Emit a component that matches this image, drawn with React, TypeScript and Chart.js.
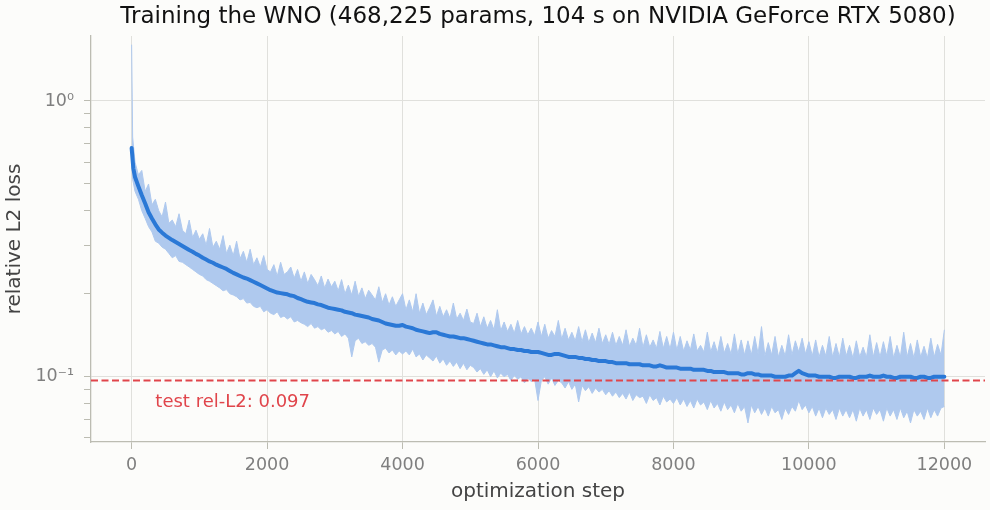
import { useEffect, useRef } from 'react';
import { Chart, registerables } from 'chart.js';

Chart.register(...registerables);

const TITLE = 'Training the WNO (468,225 params, 104 s on NVIDIA GeForce RTX 5080)';
const X_LABEL = 'optimization step';
const Y_LABEL = 'relative L2 loss';
const X_TICKS = [0, 2000, 4000, 6000, 8000, 10000, 12000];
const Y_TICKS = [0.06, 0.07, 0.08, 0.09, 0.1, 0.2, 0.3, 0.4, 0.5, 0.6, 0.7, 0.8, 0.9, 1];
const Y_TICK_LABELS: Record<string, string> = { '1': '10\u2070', '0.1': '10\u207B\u00B9' };
const TEST_LOSS = 0.097;
const TEST_LABEL = 'test rel-L2: 0.097';

// optimisation steps at which the raw-loss band and smoothed loss are sampled
const STEPS = [
  0, 15,
  50, 100, 150, 200, 250, 300, 350, 400, 450, 500, 550, 600, 650, 700, 750, 800, 850, 900, 950, 1000,
  1050, 1100, 1150, 1200, 1250, 1300, 1350, 1400, 1450, 1500, 1550, 1600, 1650, 1700, 1750, 1800, 1850, 1900, 1950, 2000,
  2050, 2100, 2150, 2200, 2250, 2300, 2350, 2400, 2450, 2500, 2550, 2600, 2650, 2700, 2750, 2800, 2850, 2900, 2950, 3000,
  3050, 3100, 3150, 3200, 3250, 3300, 3350, 3400, 3450, 3500, 3550, 3600, 3650, 3700, 3750, 3800, 3850, 3900, 3950, 4000,
  4050, 4100, 4150, 4200, 4250, 4300, 4350, 4400, 4450, 4500, 4550, 4600, 4650, 4700, 4750, 4800, 4850, 4900, 4950, 5000,
  5050, 5100, 5150, 5200, 5250, 5300, 5350, 5400, 5450, 5500, 5550, 5600, 5650, 5700, 5750, 5800, 5850, 5900, 5950, 6000,
  6050, 6100, 6150, 6200, 6250, 6300, 6350, 6400, 6450, 6500, 6550, 6600, 6650, 6700, 6750, 6800, 6850, 6900, 6950, 7000,
  7050, 7100, 7150, 7200, 7250, 7300, 7350, 7400, 7450, 7500, 7550, 7600, 7650, 7700, 7750, 7800, 7850, 7900, 7950, 8000,
  8050, 8100, 8150, 8200, 8250, 8300, 8350, 8400, 8450, 8500, 8550, 8600, 8650, 8700, 8750, 8800, 8850, 8900, 8950, 9000,
  9050, 9100, 9150, 9200, 9250, 9300, 9350, 9400, 9450, 9500, 9550, 9600, 9650, 9700, 9750, 9800, 9850, 9900, 9950, 10000,
  10050, 10100, 10150, 10200, 10250, 10300, 10350, 10400, 10450, 10500, 10550, 10600, 10650, 10700, 10750, 10800, 10850, 10900, 10950, 11000,
  11050, 11100, 11150, 11200, 11250, 11300, 11350, 11400, 11450, 11500, 11550, 11600, 11650, 11700, 11750, 11800, 11850, 11900, 11950, 12000,
];

// upper / lower extent of the noisy per-step loss
const RAW_UPPER = [
  1.6, 0.74,
  0.6, 0.54, 0.56, 0.47, 0.5, 0.42, 0.44, 0.4, 0.38, 0.43, 0.36, 0.37, 0.35, 0.39, 0.34, 0.33, 0.37, 0.32, 0.34, 0.315,
  0.33, 0.3, 0.345, 0.295, 0.31, 0.29, 0.325, 0.28, 0.3, 0.275, 0.31, 0.268, 0.285, 0.26, 0.29, 0.255, 0.27, 0.25, 0.275, 0.245,
  0.24, 0.255, 0.232, 0.26, 0.235, 0.24, 0.25, 0.228, 0.245, 0.222, 0.24, 0.218, 0.235, 0.225, 0.214, 0.232, 0.21, 0.226, 0.212, 0.222,
  0.205, 0.225, 0.2, 0.215, 0.198, 0.222, 0.196, 0.21, 0.192, 0.206, 0.198, 0.19, 0.212, 0.186, 0.2, 0.182, 0.195, 0.18, 0.19, 0.2,
  0.175, 0.19, 0.172, 0.2, 0.17, 0.185, 0.168, 0.178, 0.19, 0.166, 0.18, 0.165, 0.175, 0.163, 0.185, 0.162, 0.17, 0.16, 0.176, 0.158,
  0.156, 0.17, 0.152, 0.165, 0.15, 0.16, 0.148, 0.175, 0.147, 0.158, 0.146, 0.155, 0.144, 0.16, 0.143, 0.152, 0.142, 0.15, 0.141, 0.158,
  0.14, 0.155, 0.138, 0.147, 0.14, 0.16, 0.137, 0.15, 0.136, 0.145, 0.135, 0.152, 0.134, 0.148, 0.133, 0.144, 0.133, 0.15, 0.132, 0.142,
  0.131, 0.145, 0.13, 0.14, 0.13, 0.148, 0.129, 0.138, 0.13, 0.15, 0.128, 0.142, 0.128, 0.136, 0.127, 0.146, 0.127, 0.14, 0.126, 0.145,
  0.125, 0.14, 0.124, 0.135, 0.125, 0.143, 0.124, 0.13, 0.123, 0.145, 0.123, 0.134, 0.122, 0.14, 0.122, 0.132, 0.121, 0.143, 0.121, 0.136,
  0.12, 0.135, 0.12, 0.14, 0.121, 0.152, 0.119, 0.133, 0.12, 0.14, 0.118, 0.13, 0.119, 0.142, 0.12, 0.135, 0.123, 0.138, 0.121, 0.134,
  0.119, 0.136, 0.118, 0.13, 0.119, 0.14, 0.118, 0.132, 0.118, 0.138, 0.119, 0.13, 0.117, 0.135, 0.118, 0.128, 0.118, 0.142, 0.118, 0.133,
  0.118, 0.134, 0.119, 0.14, 0.117, 0.13, 0.118, 0.145, 0.118, 0.132, 0.117, 0.136, 0.118, 0.129, 0.117, 0.138, 0.118, 0.131, 0.12, 0.148,
];
const RAW_LOWER = [
  0.62, 0.52,
  0.47, 0.44, 0.4, 0.375, 0.35, 0.335, 0.31, 0.305, 0.295, 0.29, 0.28, 0.27, 0.275, 0.262, 0.26, 0.255, 0.25, 0.245, 0.24, 0.235,
  0.232, 0.225, 0.222, 0.218, 0.214, 0.21, 0.205, 0.207, 0.2, 0.198, 0.195, 0.19, 0.192, 0.185, 0.186, 0.18, 0.178, 0.18, 0.172, 0.175,
  0.17, 0.168, 0.172, 0.164, 0.166, 0.162, 0.165, 0.158, 0.16, 0.157, 0.155, 0.152, 0.156, 0.15, 0.152, 0.148, 0.15, 0.145, 0.147, 0.143,
  0.146, 0.14, 0.143, 0.138, 0.118, 0.135, 0.138, 0.132, 0.134, 0.13, 0.132, 0.128, 0.113, 0.125, 0.127, 0.122, 0.125, 0.12, 0.124, 0.121,
  0.124, 0.12, 0.126, 0.118, 0.121, 0.115, 0.12, 0.117, 0.114, 0.119, 0.112, 0.116, 0.11, 0.114, 0.109, 0.113, 0.107, 0.112, 0.106, 0.11,
  0.108, 0.104, 0.107, 0.102, 0.106, 0.1, 0.105, 0.099, 0.103, 0.1, 0.102, 0.097, 0.101, 0.098, 0.1, 0.095, 0.099, 0.096, 0.098, 0.082,
  0.097, 0.1, 0.094, 0.099, 0.093, 0.097, 0.095, 0.091, 0.096, 0.09, 0.094, 0.081, 0.093, 0.089, 0.092, 0.087, 0.091, 0.088, 0.09, 0.086,
  0.089, 0.085, 0.088, 0.084, 0.087, 0.083, 0.088, 0.082, 0.086, 0.084, 0.085, 0.08, 0.086, 0.082, 0.084, 0.079, 0.085, 0.081, 0.083, 0.08,
  0.084, 0.079, 0.083, 0.078, 0.082, 0.077, 0.083, 0.079, 0.081, 0.076, 0.082, 0.077, 0.08, 0.075, 0.081, 0.076, 0.079, 0.074, 0.08, 0.075,
  0.078, 0.068, 0.079, 0.074, 0.078, 0.073, 0.077, 0.072, 0.078, 0.074, 0.076, 0.07, 0.077, 0.073, 0.078, 0.075, 0.082, 0.076, 0.079, 0.074,
  0.078, 0.072, 0.077, 0.071, 0.077, 0.073, 0.076, 0.07, 0.077, 0.072, 0.076, 0.071, 0.076, 0.069, 0.077, 0.072, 0.076, 0.07, 0.077, 0.073,
  0.076, 0.069, 0.077, 0.072, 0.076, 0.07, 0.077, 0.071, 0.075, 0.068, 0.076, 0.072, 0.075, 0.07, 0.077, 0.071, 0.076, 0.072, 0.077, 0.078,
];

// smoothed loss (same steps, second sample at step 25)
const SMOOTH_STEPS = STEPS.map((s) => (s === 15 ? 25 : s));
const SMOOTH_LOSS = [
  0.675, 0.57,
  0.53, 0.49, 0.455, 0.425, 0.395, 0.375, 0.357, 0.342, 0.333, 0.325, 0.319, 0.313, 0.308, 0.303, 0.298, 0.293, 0.288, 0.284, 0.279, 0.275,
  0.27, 0.266, 0.262, 0.259, 0.255, 0.252, 0.249, 0.246, 0.242, 0.238, 0.235, 0.232, 0.229, 0.227, 0.224, 0.221, 0.218, 0.215, 0.212, 0.209,
  0.206, 0.204, 0.202, 0.201, 0.2, 0.199, 0.197, 0.196, 0.193, 0.191, 0.189, 0.187, 0.186, 0.185, 0.183, 0.182, 0.18, 0.178, 0.177, 0.176,
  0.175, 0.174, 0.172, 0.171, 0.17, 0.168, 0.167, 0.166, 0.165, 0.164, 0.162, 0.161, 0.16, 0.158, 0.156, 0.155, 0.154, 0.153, 0.153, 0.154,
  0.152, 0.151, 0.15, 0.148, 0.147, 0.146, 0.145, 0.144, 0.145, 0.145, 0.143, 0.142, 0.141, 0.14, 0.14, 0.139, 0.138, 0.138, 0.137, 0.136,
  0.135, 0.134, 0.133, 0.132, 0.131, 0.131, 0.13, 0.129, 0.128, 0.128, 0.127, 0.126, 0.126, 0.125, 0.125, 0.124, 0.124, 0.123, 0.123, 0.123,
  0.122, 0.121, 0.12, 0.12, 0.121, 0.121, 0.12, 0.119, 0.118, 0.118, 0.118, 0.117, 0.117, 0.116, 0.116, 0.115, 0.115, 0.114, 0.114, 0.114,
  0.113, 0.113, 0.112, 0.112, 0.112, 0.112, 0.111, 0.111, 0.111, 0.111, 0.11, 0.11, 0.11, 0.109, 0.109, 0.11, 0.109, 0.108, 0.108, 0.108,
  0.108, 0.107, 0.107, 0.107, 0.107, 0.106, 0.106, 0.106, 0.106, 0.105, 0.105, 0.104, 0.104, 0.104, 0.104, 0.103, 0.103, 0.103, 0.103, 0.102,
  0.102, 0.103, 0.103, 0.102, 0.102, 0.101, 0.101, 0.101, 0.101, 0.1, 0.1, 0.1, 0.1, 0.101, 0.101, 0.103, 0.105, 0.103, 0.102, 0.101,
  0.101, 0.101, 0.1, 0.1, 0.1, 0.1, 0.099, 0.099, 0.1, 0.1, 0.1, 0.1, 0.099, 0.099, 0.1, 0.1, 0.1, 0.101, 0.1, 0.1,
  0.1, 0.101, 0.1, 0.1, 0.099, 0.099, 0.1, 0.1, 0.1, 0.1, 0.099, 0.099, 0.1, 0.1, 0.099, 0.099, 0.1, 0.1, 0.1, 0.1,
];

const FONT = "'DejaVu Sans', sans-serif";
const BG = '#fcfcfa';
const RED = '#e0454b';
const BAND = '#afc9ee';
const LINE = '#2a78d6';
const GRID = '#e0e0dc';
const SPINE = '#bcbcb2';
const TICK_TEXT = '#7f7f7f';

const labelPlugin = {
  id: 'testLabel',
  afterDatasetsDraw(chart: any) {
    const { ctx, scales } = chart;
    const x = scales.x;
    const y = scales.y;
    ctx.save();
    ctx.fillStyle = RED;
    ctx.font = `18px ${FONT}`;
    ctx.textAlign = 'left';
    ctx.textBaseline = 'middle';
    ctx.fillText(TEST_LABEL, x.getPixelForValue(350), y.getPixelForValue(TEST_LOSS * 0.83));
    ctx.restore();
  },
};

export default function App() {
  const ref = useRef<HTMLCanvasElement>(null);
  useEffect(() => {
    document.body.style.margin = '0';
    document.body.style.background = BG;
    Chart.defaults.font.family = FONT;
    const pts = (xs: number[], ys: number[]) => xs.map((x, i) => ({ x, y: ys[i] }));
    const chart = new Chart(ref.current as HTMLCanvasElement, {
      type: 'line',
      data: {
        datasets: [
          {
            data: [
              { x: -600, y: TEST_LOSS },
              { x: 12600, y: TEST_LOSS },
            ],
            borderColor: RED,
            borderWidth: 2,
            borderDash: [7, 3.5],
            pointRadius: 0,
            order: 0,
          },
          {
            data: pts(SMOOTH_STEPS, SMOOTH_LOSS),
            borderColor: LINE,
            borderWidth: 4,
            borderJoinStyle: 'round',
            borderCapStyle: 'round',
            pointRadius: 0,
            order: 1,
          },
          {
            data: pts(STEPS, RAW_UPPER),
            borderColor: BAND,
            backgroundColor: BAND,
            borderWidth: 1,
            pointRadius: 0,
            fill: '+1',
            order: 2,
          },
          {
            data: pts(STEPS, RAW_LOWER),
            borderColor: BAND,
            borderWidth: 1,
            pointRadius: 0,
            fill: false,
            order: 3,
          },
        ],
      },
      options: {
        animation: false,
        responsive: false,
        maintainAspectRatio: false,
        layout: { padding: { left: 0, right: 5, top: 2, bottom: 0 } },
        elements: { line: { tension: 0 } },
        plugins: {
          legend: { display: false },
          tooltip: { enabled: false },
          title: {
            display: true,
            text: TITLE,
            fullSize: false,
            color: '#111111',
            font: { family: FONT, size: 23, weight: 'normal' },
            padding: { top: 1, bottom: 5.4 },
          },
        },
        scales: {
          x: {
            type: 'linear',
            min: -600,
            max: 12600,
            afterBuildTicks: (s: any) => {
              s.ticks = X_TICKS.map((v) => ({ value: v }));
            },
            afterFit: (s: any) => {
              s.height = 68;
            },
            grid: { color: GRID, lineWidth: 1, tickLength: 7, tickColor: SPINE },
            border: { color: SPINE, width: 1.3 },
            ticks: {
              color: TICK_TEXT,
              font: { family: FONT, size: 17.5 },
              padding: 6,
              autoSkip: false,
              maxRotation: 0,
              callback: (v: any) => String(v),
            },
            title: {
              display: true,
              text: X_LABEL,
              color: '#444444',
              font: { family: FONT, size: 20 },
              padding: { top: 0, bottom: 6 },
            },
          },
          y: {
            type: 'logarithmic',
            min: 0.058,
            max: 1.72,
            afterBuildTicks: (s: any) => {
              s.ticks = Y_TICKS.map((v) => ({ value: v, major: v === 1 || v === 0.1 }));
            },
            afterFit: (s: any) => {
              s.width = 91;
            },
            grid: {
              color: (c: any) => (c.tick && (c.tick.value === 1 || c.tick.value === 0.1) ? GRID : 'rgba(0,0,0,0)'),
              lineWidth: 1,
              tickLength: 7,
              tickColor: SPINE,
            },
            border: { color: SPINE, width: 1.3 },
            ticks: {
              color: TICK_TEXT,
              font: { family: FONT, size: 17.5 },
              padding: 10,
              autoSkip: false,
              callback: (v: any) => Y_TICK_LABELS[String(v)] ?? '',
            },
            title: {
              display: true,
              text: Y_LABEL,
              color: '#444444',
              font: { family: FONT, size: 20 },
              padding: { top: 3, bottom: 0 },
            },
          },
        },
      },
      plugins: [labelPlugin],
    } as any);
    return () => chart.destroy();
  }, []);
  return (
    <div style={{ width: 990, height: 510, background: BG }}>
      <canvas ref={ref} width={990} height={510} style={{ display: 'block' }} />
    </div>
  );
}
